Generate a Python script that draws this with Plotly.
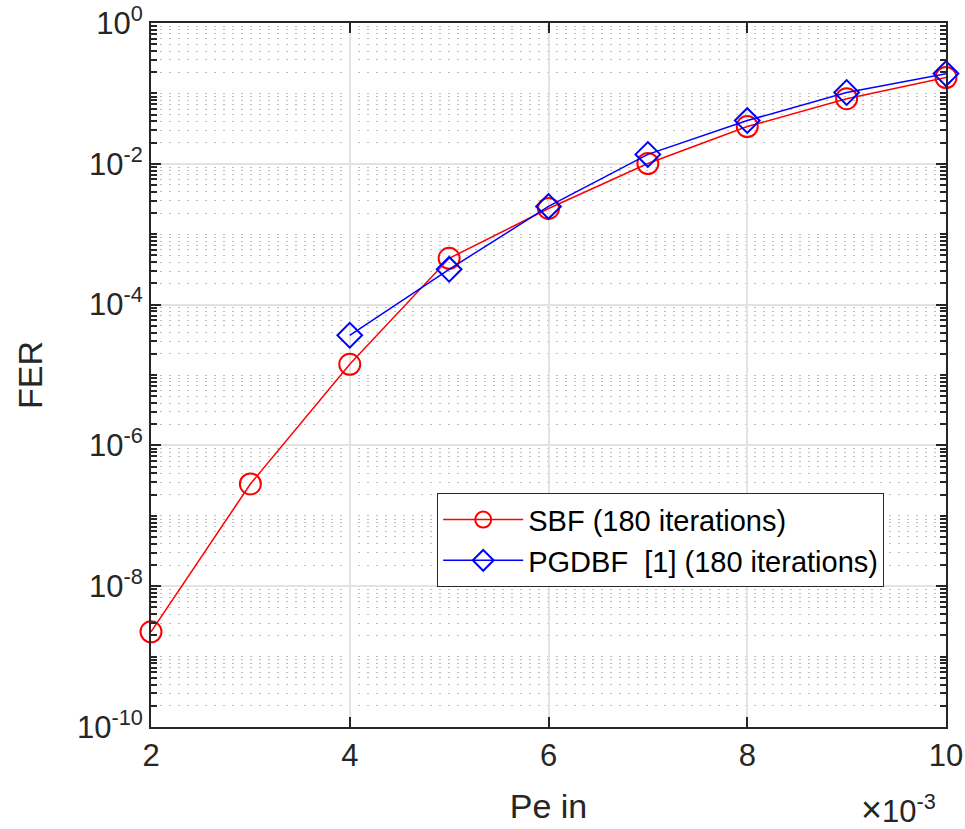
import plotly.graph_objects as go

# Data (x in units of 1e-3)
pe_in_sbf = [2, 3, 4, 5, 6, 7, 8, 9, 10]
fer_sbf = [2.25e-9, 2.83e-7, 1.42e-5, 4.54e-4, 2.32e-3, 1.01e-2, 3.38e-2, 8.4e-2, 0.168]

pe_in_pgdbf = [4, 5, 6, 7, 8, 9, 10]
fer_pgdbf = [3.67e-5, 3.17e-4, 2.48e-3, 1.36e-2, 4.11e-2, 0.103, 0.191]

x_ticks = [2, 4, 6, 8, 10]
y_major_exp = [-10, -8, -6, -4, -2, 0]

major_vals = [10.0 ** e for e in y_major_exp]
major_text = ["10<sup>%d</sup>" % e for e in y_major_exp]
minor_vals = []
for e in range(-10, 0):
    for m in range(1, 10):
        if m == 1 and e in y_major_exp:
            continue
        minor_vals.append(m * 10.0 ** e)

axis_color = "#262626"
font_family = "Liberation Sans, Arial, Helvetica, sans-serif"

fig = go.Figure()
fig.add_trace(go.Scatter(
    x=pe_in_sbf, y=fer_sbf, mode="lines+markers",
    name="SBF (180 iterations)",
    line=dict(color="#ff0000", width=1.5),
    marker=dict(symbol="circle-open", size=21, color="#ff0000", line=dict(width=2, color="#ff0000")),
    cliponaxis=False,
))
fig.add_trace(go.Scatter(
    x=pe_in_pgdbf, y=fer_pgdbf, mode="lines+markers",
    name="PGDBF  [1] (180 iterations)",
    line=dict(color="#0000ff", width=1.5),
    marker=dict(symbol="diamond-open", size=19, color="#0000ff", line=dict(width=2, color="#0000ff")),
    cliponaxis=False,
))

fig.update_layout(
    width=965, height=829,
    margin=dict(l=151, r=19, t=23, b=102),
    paper_bgcolor="white", plot_bgcolor="white",
    font=dict(family=font_family, color=axis_color),
    showlegend=True,
    legend=dict(
        x=0.36, y=0.332, xanchor="left", yanchor="top",
        bgcolor="white", bordercolor="#262626", borderwidth=1,
        font=dict(size=29, color="black", family=font_family),
        itemwidth=80,
        tracegroupgap=0,
    ),
    xaxis=dict(
        range=[2, 10], tickvals=x_ticks, ticktext=[str(v) for v in x_ticks],
        ticks="inside", ticklen=10, tickwidth=1.5, tickcolor=axis_color,
        showline=True, linecolor=axis_color, linewidth=2, mirror="allticks",
        showgrid=True, gridcolor="#e3e3e3", gridwidth=1.5,
        zeroline=False, automargin=False, ticklabeloverflow="allow",
        tickfont=dict(size=31, color=axis_color),
        title=dict(text="Pe in", font=dict(size=34, color=axis_color), standoff=22),
    ),
    yaxis=dict(
        type="log", range=[-10, 0],
        tickmode="array", tickvals=major_vals, ticktext=major_text,
        ticks="inside", ticklen=10, tickwidth=1.5, tickcolor=axis_color,
        showline=True, linecolor=axis_color, linewidth=2, mirror="allticks",
        showgrid=True, gridcolor="#e3e3e3", gridwidth=1.5,
        zeroline=False, automargin=False, ticklabeloverflow="allow",
        tickfont=dict(size=31, color=axis_color),
        title=dict(text="FER", font=dict(size=34, color=axis_color), standoff=24),
        minor=dict(
            tickmode="array", tickvals=minor_vals,
            ticks="inside", ticklen=6, tickwidth=1.5, tickcolor=axis_color,
            showgrid=True, gridcolor="#bdbdbd", griddash="2px,7px", gridwidth=1,
        ),
    ),
)

fig.add_annotation(
    xref="paper", yref="paper", x=0.99, y=-0.085, xanchor="right", yanchor="top",
    text="<span style='font-size:36px'>\u00d7</span>10<sup>-3</sup>", showarrow=False,
    font=dict(size=31, color=axis_color, family=font_family),
)

# remove the default 8px page margin so the 965x829 figure fills the window exactly
fig.write_html(
    "out.html",
    config={"displayModeBar": False},
    post_script="document.body.style.margin='0px';",
)
